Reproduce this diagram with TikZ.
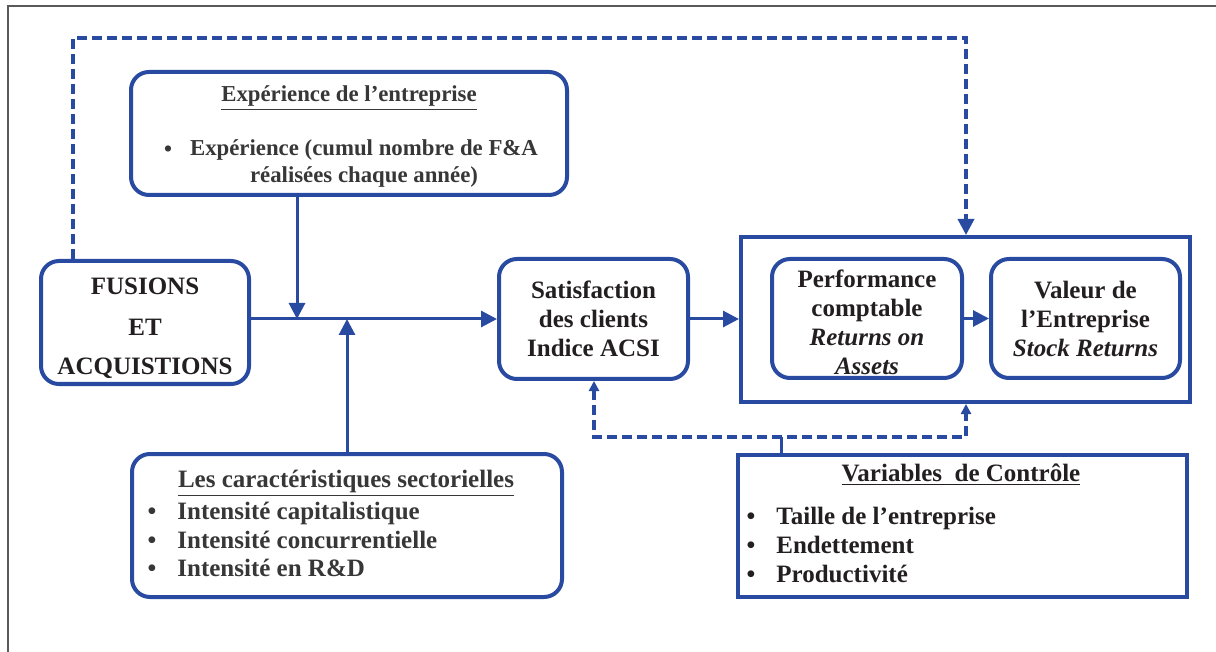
\documentclass[tikz,border=0pt]{standalone}
\usepackage{fontspec}
\setmainfont{Liberation Serif}
\usetikzlibrary{arrows.meta,positioning}
\definecolor{lineblue}{RGB}{40,74,160}
\definecolor{textdark}{RGB}{35,31,32}
\definecolor{textgray}{RGB}{55,55,55}
\definecolor{framegray}{RGB}{90,90,90}

\begin{document}
\begin{tikzpicture}[x=0.5pt,y=-0.5pt,>={Triangle[length=8pt,width=8pt]},
    rbox/.style={draw=lineblue,line width=2pt,rounded corners=9pt,inner sep=0pt},
    sbox/.style={draw=lineblue,line width=2pt,inner sep=0pt},
    bigtxt/.style={font=\fontsize{12.5}{14.5}\selectfont\bfseries,text=textdark,align=center},
    smalltxt/.style={font=\fontsize{12.5}{14}\selectfont\bfseries,text=textgray,inner sep=0pt},
    exptxt/.style={smalltxt,font=\fontsize{11.4}{13.5}\selectfont\bfseries},
    conn/.style={draw=lineblue,line width=1.5pt},
    dashconn/.style={draw=lineblue,line width=1.75pt,dash pattern=on 5pt off 2.5pt},
    small tip/.style={>={Triangle[length=5pt,width=5pt]}}]
  \useasboundingbox (0,0) rectangle (1216,652);
  \draw[framegray,line width=1pt] (8,652) -- (8,6) -- (1216,6);

  % boxes
  \node[rbox,minimum width=104pt,minimum height=61.5pt] (fa) at (145,322.5) {};
  \node[bigtxt,inner sep=0pt] (faT) at (145,328) {FUSIONS\\[6pt] ET\\[5pt] ACQUISTIONS};
  \node[rbox,minimum width=218pt,minimum height=61.5pt] (exp) at (349,133.5) {};
  \node[rbox,bigtxt,minimum width=94.5pt,minimum height=60pt] (sat) at (593.5,319)
    {Satisfaction\\ des clients\\ Indice ACSI};
  \node[sbox,minimum width=224.5pt,minimum height=82.5pt] (big) at (965.5,319.5) {};
  \node[rbox,minimum width=95pt,minimum height=59.5pt] (perf) at (867,318.5) {};
  \node[bigtxt,inner sep=0pt] (perfT) at (867,322.5)
    {Performance\\ comptable\\ \textit{Returns on}\\ \textit{Assets}};
  \node[rbox,bigtxt,minimum width=94.5pt,minimum height=59.5pt] (val) at (1085.5,318.5)
    {Valeur de\\ l’Entreprise\\ \textit{Stock Returns}};
  \node[rbox,minimum width=215pt,minimum height=71.5pt] (sect) at (347,525.5) {};
  \node[sbox,minimum width=224.5pt,minimum height=71pt] (ctrl) at (962.5,526) {};

  % texts of the boxes
  \node[exptxt] (expT) at (349,98) {\underline{Expérience de l’entreprise}};
  \node[exptxt] (expB) at (168,151) {•};
  \node[exptxt,align=center] (expI) at (364,163.5)
    {Expérience (cumul nombre de F\&A\\ réalisées chaque année)};
  \node[smalltxt] (sectT) at (346,483) {\underline{Les caractéristiques sectorielles}};
  \foreach \t [count=\i] in {Intensité capitalistique,Intensité concurrentielle,Intensité en R\&D} {
    \node[smalltxt,anchor=base] (sectB\i) at (152,491+28.5*\i) {•};
    \node[smalltxt,anchor=base west] (sectI\i) at (177,491+28.5*\i) {\t};
  }
  \node[smalltxt,text=textdark] (ctrlT) at (961,475) {\underline{Variables\ \ de Contrôle}};
  \foreach \t [count=\i] in {Taille de l’entreprise,Endettement,Productivité} {
    \node[smalltxt,text=textdark,anchor=base] (ctrlB\i) at (751,495+29*\i) {•};
    \node[smalltxt,text=textdark,anchor=base west] (ctrlI\i) at (776,495+29*\i) {\t};
  }

  % junctions
  \coordinate (jA) at (297,319);
  \coordinate (jB) at (347,319);
  \coordinate (tl) at (73,38);
  \coordinate (tr) at (966,38);
  \coordinate (bl) at (594,437);
  \coordinate (br) at (966,437);
  \coordinate (bm) at (781,437);

  % connectors
  \draw[conn,->] (fa.east |- sat.west) -- (sat.west);
  \draw[conn,->] (exp.south -| jA) -- (jA);
  \draw[conn,->] (sect.north -| jB) -- (jB);
  \draw[conn,->] (sat.east) -- (big.west |- sat.east);
  \draw[conn,->] (perf.east) -- (val.west);
  \draw[dashconn,->] (fa.north -| tl) -- (tl) -- (tr) -- (big.north -| tr);
  \draw[dashconn,small tip,<->] (sat.south -| bl) -- (bl) -- (br) -- (big.south -| br);
  \draw[conn] (ctrl.north -| bm) -- (bm);
\end{tikzpicture}
\end{document}
